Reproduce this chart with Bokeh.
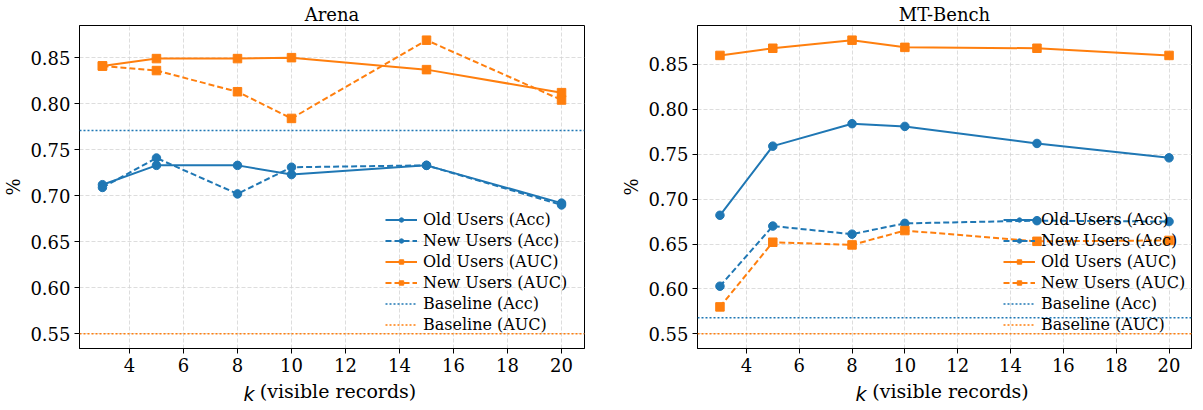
from bokeh.plotting import figure
from bokeh.layouts import row
from bokeh.models import (Legend, LegendItem, Label, FixedTicker, Range1d, Span,
                          CustomJSTickFormatter)
from bokeh.embed import file_html
from bokeh.resources import INLINE

k_values = [3, 5, 8, 10, 15, 20]

arena_old_acc = [0.712, 0.733, 0.733, 0.723, 0.733, 0.692]
arena_new_acc = [0.709, 0.741, 0.702, 0.731, 0.733, 0.690]
arena_old_auc = [0.841, 0.849, 0.849, 0.850, 0.837, 0.812]
arena_new_auc = [0.841, 0.836, 0.813, 0.784, 0.869, 0.804]
arena_base_acc = 0.771
arena_base_auc = 0.550

mt_old_acc = [0.682, 0.759, 0.784, 0.781, 0.762, 0.746]
mt_new_acc = [0.603, 0.670, 0.661, 0.673, 0.676, 0.675]
mt_old_auc = [0.860, 0.868, 0.877, 0.869, 0.868, 0.860]
mt_new_auc = [0.580, 0.652, 0.649, 0.665, 0.653, 0.654]
mt_base_acc = 0.568
mt_base_auc = 0.550

x_ticks = [4, 6, 8, 10, 12, 14, 16, 18, 20]
y_ticks = [0.55, 0.60, 0.65, 0.70, 0.75, 0.80, 0.85]
legend_labels = ["Old Users (Acc)", "New Users (Acc)", "Old Users (AUC)",
                 "New Users (AUC)", "Baseline (Acc)", "Baseline (AUC)"]

BLUE = "#1f77b4"
ORANGE = "#ff7f0e"
SERIF = "DejaVu Serif"
TICK_FS = "18px"
XLAB_FS = "19px"
LEG_FS = "16px"
FRAME_H = 323
NBSP = "\u00a0"


def make_panel(title, old_acc, new_acc, old_auc, new_auc, base_acc, base_auc,
               frame_w, border_left, border_right, k_side, k_x):
    vals = old_acc + new_acc + old_auc + new_auc + [base_acc, base_auc]
    lo, hi = min(vals), max(vals)
    m = (hi - lo) * 0.05
    xm = (max(k_values) - min(k_values)) * 0.05
    p = figure(frame_width=frame_w, frame_height=FRAME_H,
               x_range=Range1d(min(k_values) - xm, max(k_values) + xm),
               y_range=Range1d(lo - m, hi + m),
               output_backend="svg", toolbar_location=None,
               min_border_left=border_left, min_border_right=border_right,
               min_border_top=18, min_border_bottom=52)
    p.title.text = title
    p.title.align = "center"
    p.title.text_font = SERIF
    p.title.text_font_size = TICK_FS
    p.title.text_font_style = "normal"
    p.title.text_color = "black"
    p.title.standoff = 2
    p.title.offset = 0

    p.outline_line_color = "black"
    p.outline_line_width = 1
    p.outline_line_alpha = 1

    for ax in (p.xaxis[0], p.yaxis[0]):
        ax.major_label_text_font = SERIF
        ax.major_label_text_font_size = TICK_FS
        ax.major_label_text_color = "black"
        ax.axis_line_color = "black"
        ax.major_tick_line_color = "black"
        ax.major_tick_out = 5
        ax.major_tick_in = 0
        ax.minor_tick_out = 0
        ax.minor_tick_in = 0
        ax.major_label_standoff = 4
    p.xaxis[0].ticker = FixedTicker(ticks=x_ticks)
    p.yaxis[0].ticker = FixedTicker(ticks=y_ticks)
    p.yaxis[0].formatter = CustomJSTickFormatter(code="return tick.toFixed(2);")
    p.yaxis[0].axis_label = "%"
    p.yaxis[0].axis_label_text_font = SERIF
    p.yaxis[0].axis_label_text_font_size = TICK_FS
    p.yaxis[0].axis_label_text_font_style = "normal"
    p.yaxis[0].axis_label_text_color = "black"
    p.yaxis[0].axis_label_standoff = 3

    # x axis label; leading no-break spaces leave room for the italic k
    p.xaxis[0].axis_label = NBSP * 2 + "(visible records)"
    p.xaxis[0].axis_label_text_font = SERIF
    p.xaxis[0].axis_label_text_font_size = XLAB_FS
    p.xaxis[0].axis_label_text_font_style = "normal"
    p.xaxis[0].axis_label_text_color = "black"
    p.xaxis[0].axis_label_standoff = 5

    for g in (p.xgrid[0], p.ygrid[0]):
        g.grid_line_color = "#d4d4d4"
        g.grid_line_dash = "4 2"
        g.grid_line_width = 0.8
    p.xgrid[0].ticker = FixedTicker(ticks=x_ticks)
    p.ygrid[0].ticker = FixedTicker(ticks=y_ticks)

    # baselines
    p.add_layout(Span(location=base_acc, dimension="width", line_color=BLUE,
                      line_dash="2 2", line_width=1.5))
    p.add_layout(Span(location=base_auc, dimension="width", line_color=ORANGE,
                      line_dash="2 2", line_width=1.5))

    series = [(old_acc, BLUE, "solid", "circle"),
              (new_acc, BLUE, "6 3", "circle"),
              (old_auc, ORANGE, "solid", "square"),
              (new_auc, ORANGE, "6 3", "square")]
    for ys, c, dash, marker in series:
        p.line(k_values, ys, line_color=c, line_width=2, line_dash=dash)
        p.scatter(k_values, ys, marker=marker, size=8.5, fill_color=c, line_color=c)

    # legend proxies placed outside the visible range
    px = [-50, -49]
    py = [0, 0]
    items = []
    for (ys, c, dash, marker), lab in zip(series, legend_labels[:4]):
        lr = p.line(px, py, line_color=c, line_width=2, line_dash=dash)
        sr = p.scatter(px[:1], py[:1], marker=marker, size=4.5, fill_color=c, line_color=c)
        items.append(LegendItem(label=lab, renderers=[lr, sr]))
    for c, lab in ((BLUE, legend_labels[4]), (ORANGE, legend_labels[5])):
        lr = p.line(px, py, line_color=c, line_width=1.5, line_dash="2 2")
        items.append(LegendItem(label=lab, renderers=[lr]))
    leg = Legend(items=items, location=(306, 14), margin=0, padding=0,
                 spacing=1, glyph_width=32, glyph_height=11, label_height=20,
                 label_standoff=6, label_text_font=SERIF,
                 label_text_font_size=LEG_FS, label_text_color="black",
                 background_fill_alpha=0, border_line_alpha=0)
    p.add_layout(leg, "center")

    # italic k of the x axis label, kept in a side panel so it is not clipped
    p.add_layout(Label(x=k_x, y=-45.5, x_units="screen", y_units="screen",
                       text="k", text_font="DejaVu Sans", text_font_style="italic",
                       text_font_size=XLAB_FS, text_color="black",
                       text_align="left", text_baseline="alphabetic"), k_side)
    return p


p1 = make_panel("Arena", arena_old_acc, arena_new_acc, arena_old_auc, arena_new_auc,
                arena_base_acc, arena_base_auc, 505, 74, 23, "right", -341)
p2 = make_panel("MT-Bench", mt_old_acc, mt_new_acc, mt_old_auc, mt_new_auc,
                mt_base_acc, mt_base_auc, 494, 90, 1, "left", 248)

layout = row(p1, p2)
open("out.html", "w").write(file_html(layout, INLINE))
